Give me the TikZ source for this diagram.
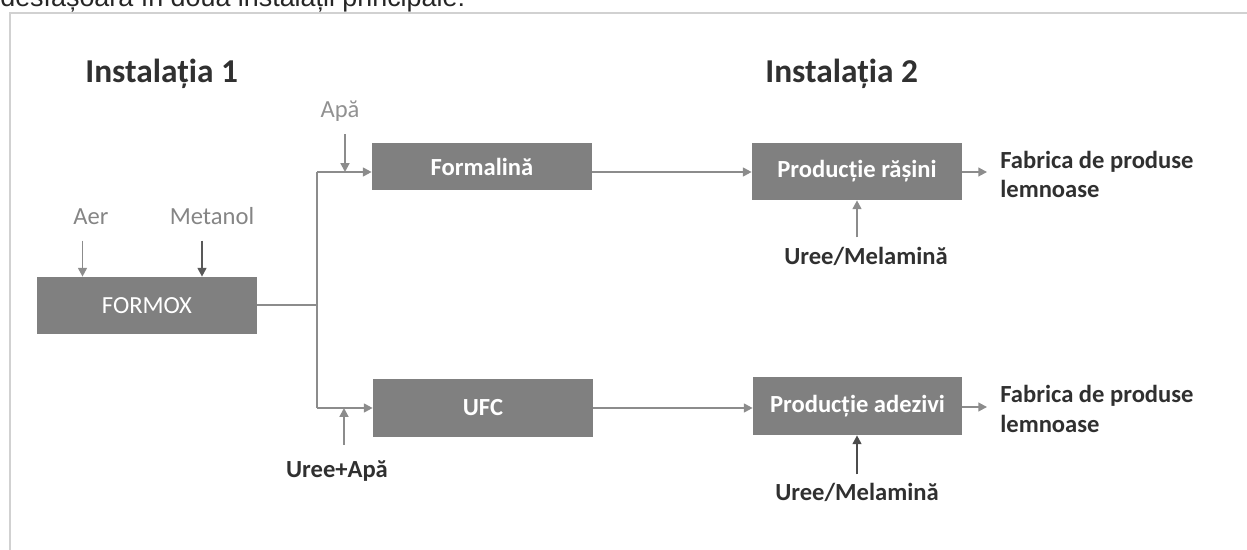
\documentclass[tikz,border=0pt]{standalone}
\usepackage{fontspec}
\setmainfont{Carlito}
\newfontfamily\introfont{Liberation Sans}
\usetikzlibrary{arrows.meta}
\definecolor{boxgray}{HTML}{808080}
\definecolor{linegray}{HTML}{8C8C8C}
\definecolor{lblgray}{HTML}{858585}
\definecolor{txtdark}{HTML}{303030}
\begin{document}
\begin{tikzpicture}[x=0.02cm, y=-0.02cm,
    proc/.style={fill=boxgray, text=white, inner sep=0pt, font=\bfseries\fontsize{14}{17}\selectfont},
    flow/.style={draw=linegray, line width=1.1pt, -{Triangle[length=5pt,width=5pt]}},
    pipe/.style={draw=linegray, line width=1.1pt},
    inlbl/.style={inner sep=0pt, text=lblgray, font=\fontsize{14}{17}\selectfont},
    outlbl/.style={inner sep=0pt, text=txtdark, font=\bfseries\fontsize{14}{17}\selectfont, align=left},
    title/.style={inner sep=0pt, text=txtdark, font=\bfseries\fontsize{19}{23}\selectfont}]
                    \useasboundingbox (0,0) rectangle (1247,550);
                    \clip (0,0) rectangle (1247,550);
                    \node[inner sep=0pt, anchor=base west, text=black!85, font=\introfont\fontsize{15.3}{18}\selectfont] (intro) at (0,7) {desfășoară în două instalații principale:};
                    \draw[black!18, line width=0.6pt] (1260,13) -- (10,13) -- (10,560);
                    % titluri
                    \node[title, anchor=base west] (inst1) at (85,83) {Instalația 1};
                    \node[title, anchor=base west] (inst2) at (765,83) {Instalația 2};
                    % blocuri
                    \node[proc, minimum width=4.4cm, minimum height=1.14cm, font=\fontsize{14}{17}\selectfont] (formox) at (147,305.5) {FORMOX};
                    \node[proc, minimum width=4.4cm, minimum height=0.94cm] (formalina) at (482,166.5) {Formalină};
                    \node[proc, minimum width=4.4cm, minimum height=1.16cm] (ufc) at (483,408) {UFC};
                    \node[proc, minimum width=4.2cm, minimum height=1.14cm] (rasini) at (857,171.5) {Producție rășini};
                    \node[proc, minimum width=4.18cm, minimum height=1.16cm] (adezivi) at (857.5,406) {Producție adezivi};
                    % intrari
                    \node[inlbl, anchor=base] (aer) at (91,225) {Aer};
                    \node[inlbl, anchor=base] (metanol) at (212,225) {Metanol};
                    \node[inlbl, anchor=base, text=lblgray!90] (apa) at (340,118) {Apă};
                    \node[outlbl, anchor=base] (ureeapa) at (337,477) {Uree+Apă};
                    \node[outlbl, anchor=base] (ureemel1) at (866,265) {Uree/Melamină};
                    \node[outlbl, anchor=base] (ureemel2) at (857,500) {Uree/Melamină};
                    % iesiri
                    \node[outlbl, anchor=base west] (fab1) at (1000,198) {Fabrica de produse\\lemnoase};
                    \node[outlbl, anchor=base west] (fab2) at (1000,432) {Fabrica de produse\\lemnoase};
                    % legaturi
                    \coordinate (jmid) at (317,305);
                    \coordinate (jtop) at (317,172);
                    \coordinate (jbot) at (317,408);
                    \draw[pipe] (formox.east |- jmid) -- (jmid);
                    \draw[pipe] (jtop) -- (jbot);
                    \draw[flow] (jtop) -- (formalina.west |- jtop);
                    \draw[flow] (jbot) -- (ufc.west |- jbot);
                    \draw[flow] (formalina.east |- jtop) -- (rasini.west |- jtop);
                    \draw[flow] (ufc.east |- jbot) -- (adezivi.west |- jbot);
                    \draw[flow, shorten >=13pt*0.567] (rasini.east |- jtop) -- (fab1.west |- jtop);
                    \draw[flow, shorten >=13pt*0.567] (adezivi.east |- 0,407) -- (fab2.west |- 0,407);
                    \draw[flow, shorten <=0.3cm] ([xshift=-0.17cm]aer.south) -- ([xshift=-0.17cm]aer.south |- formox.north);
                    \draw[flow, draw=black!65, shorten <=0.3cm] ([xshift=-0.2cm]metanol.south) -- ([xshift=-0.2cm]metanol.south |- formox.north);
                    \draw[flow, shorten <=0.24cm] ([xshift=0.1cm]apa.south) -- ([xshift=0.1cm]apa.south |- jtop);
                    \draw[flow, shorten <=0.3cm] ([xshift=0.14cm]ureeapa.north) -- ([xshift=0.14cm]ureeapa.north |- jbot);
                    \draw[flow, shorten <=0.2cm] ([xshift=-0.18cm]ureemel1.north) -- ([xshift=-0.18cm]ureemel1.north |- rasini.south);
                    \draw[flow, draw=black!70, shorten <=0.16cm] (ureemel2.north) -- (ureemel2.north |- adezivi.south);
                \end{tikzpicture}
\end{document}
